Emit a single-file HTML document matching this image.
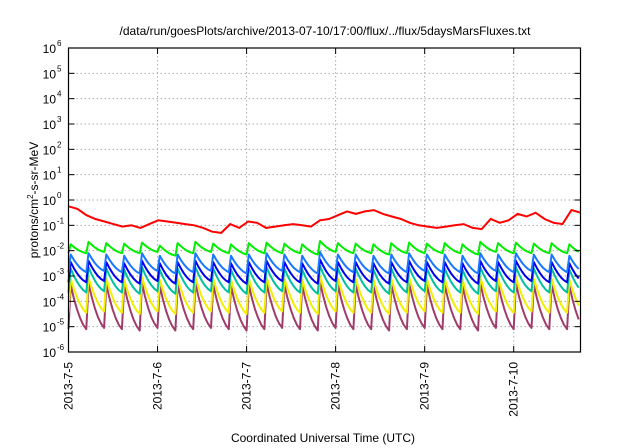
<!DOCTYPE html>
<html><head><meta charset="utf-8"><style>
body{margin:0;background:#fff;width:640px;height:448px;overflow:hidden}
svg{display:block;font-family:"Liberation Sans",sans-serif}
</style></head><body>
<svg id="chart" width="640" height="448" viewBox="0 0 640 448">
<text x="325" y="35" font-size="12" text-anchor="middle">/data/run/goesPlots/archive/2013-07-10/17:00/flux/../flux/5daysMarsFluxes.txt</text>
<text transform="translate(38,200) rotate(-90)" font-size="12" text-anchor="middle">protons/cm<tspan font-size="8" dy="-5">2</tspan><tspan dy="5">-s-sr-MeV</tspan></text>
<text x="323" y="442" font-size="12" text-anchor="middle">Coordinated Universal Time (UTC)</text>
<g id="grid"></g><g id="series"></g><g id="axes"></g>
</svg>
<script>
const dayLabels=["2013-7-5","2013-7-6","2013-7-7","2013-7-8","2013-7-9","2013-7-10"];
const yExponents=[-6,-5,-4,-3,-2,-1,0,1,2,3,4,5,6];
const redValues=[-0.25,-0.35,-0.6,-0.75,-0.85,-0.95,-1.05,-1.0,-1.1,-0.95,-0.8,-0.85,-0.9,-0.95,-1.0,-1.1,-1.25,-1.3,-0.95,-1.1,-0.85,-0.9,-1.1,-1.05,-1.0,-0.95,-1.0,-1.05,-0.8,-0.75,-0.6,-0.45,-0.55,-0.45,-0.4,-0.55,-0.65,-0.75,-0.9,-1.0,-1.05,-1.1,-1.05,-1.0,-0.95,-1.1,-1.15,-0.75,-0.9,-0.8,-0.55,-0.65,-0.5,-0.75,-0.9,-0.95,-0.4,-0.5];
const greenPeaks=[-1.75,-1.65,-1.7,-1.72,-1.68,-1.8,-1.7,-1.65,-1.72,-1.75,-1.7,-1.68,-1.72,-1.75,-1.62,-1.7,-1.72,-1.75,-1.7,-1.68,-1.72,-1.7,-1.75,-1.65,-1.7,-1.68,-1.72,-1.7,-1.75];
const greenTroughs=[-2.1,-2.05,-2.1,-2.1,-2.05,-2.2,-2.1,-2.05,-2.1,-2.15,-2.1,-2.1,-2.1,-2.15,-2.05,-2.1,-2.1,-2.15,-2.1,-2.1,-2.1,-2.1,-2.15,-2.05,-2.1,-2.1,-2.1,-2.1,-2.15];
const lightBluePeaks=[-2.15,-2.1,-2.15,-2.2,-2.1,-2.2,-2.15,-2.1,-2.15,-2.2,-2.15,-2.1,-2.15,-2.2,-2.05,-2.15,-2.15,-2.2,-2.15,-2.1,-2.15,-2.15,-2.2,-2.1,-2.15,-2.1,-2.15,-2.15,-2.2];
const lightBlueTroughs=[-2.85,-2.8,-2.85,-2.9,-2.8,-2.9,-2.85,-2.8,-2.85,-2.9,-2.85,-2.8,-2.85,-2.9,-2.8,-2.85,-2.85,-2.9,-2.85,-2.8,-2.85,-2.85,-2.9,-2.8,-2.85,-2.8,-2.85,-2.85,-2.9];
const bluePeaks=[-2.45,-2.4,-2.45,-2.5,-2.4,-2.5,-2.45,-2.4,-2.45,-2.5,-2.45,-2.4,-2.45,-2.5,-2.35,-2.45,-2.45,-2.5,-2.45,-2.4,-2.45,-2.45,-2.5,-2.4,-2.45,-2.4,-2.45,-2.45,-2.5];
const blueTroughs=[-3.25,-3.2,-3.25,-3.3,-3.2,-3.3,-3.25,-3.2,-3.25,-3.3,-3.25,-3.2,-3.25,-3.3,-3.2,-3.25,-3.25,-3.3,-3.25,-3.2,-3.25,-3.25,-3.3,-3.2,-3.25,-3.2,-3.25,-3.25,-3.3];
const tealPeaks=[-2.7,-2.65,-2.7,-2.75,-2.65,-2.75,-2.7,-2.65,-2.7,-2.75,-2.7,-2.65,-2.7,-2.75,-2.6,-2.7,-2.7,-2.75,-2.7,-2.65,-2.7,-2.7,-2.75,-2.65,-2.7,-2.65,-2.7,-2.7,-2.75];
const tealTroughs=[-3.65,-3.6,-3.65,-3.7,-3.6,-3.7,-3.65,-3.6,-3.65,-3.7,-3.65,-3.6,-3.65,-3.7,-3.6,-3.65,-3.65,-3.7,-3.65,-3.6,-3.65,-3.65,-3.7,-3.6,-3.65,-3.6,-3.65,-3.65,-3.7];
const yellowPeaks=[-3.1,-3.05,-3.1,-3.15,-3.05,-3.15,-3.1,-3.05,-3.1,-3.15,-3.1,-3.05,-3.1,-3.15,-3.0,-3.1,-3.1,-3.15,-3.1,-3.05,-3.1,-3.1,-3.15,-3.05,-3.1,-3.05,-3.1,-3.1,-3.15];
const yellowTroughs=[-4.45,-4.4,-4.45,-4.5,-4.4,-4.5,-4.45,-4.4,-4.45,-4.5,-4.45,-4.4,-4.45,-4.5,-4.4,-4.45,-4.45,-4.5,-4.45,-4.4,-4.45,-4.45,-4.5,-4.4,-4.45,-4.4,-4.45,-4.45,-4.5];
const purplePeaks=[-3.35,-3.3,-3.35,-3.4,-3.3,-3.4,-3.35,-3.3,-3.35,-3.4,-3.35,-3.3,-3.35,-3.4,-3.25,-3.35,-3.35,-3.4,-3.35,-3.3,-3.35,-3.35,-3.4,-3.3,-3.35,-3.3,-3.35,-3.35,-3.4];
const purpleTroughs=[-5.1,-5.05,-5.1,-5.15,-5.05,-5.15,-5.1,-5.05,-5.1,-5.15,-5.1,-5.05,-5.1,-5.15,-5.05,-5.1,-5.1,-5.15,-5.1,-5.05,-5.1,-5.1,-5.15,-5.05,-5.1,-5.05,-5.1,-5.1,-5.15];

const NS="http://www.w3.org/2000/svg";
const L=68.5,R=580.5,T=48,B=352,DAYS=5.75,PERIOD=0.2;
const xs=d=>L+(d/DAYS)*(R-L);
const ys=e=>T+(6-e)/12*(B-T);
function mk(tag,attrs,parent){const e=document.createElementNS(NS,tag);for(const k in attrs)e.setAttribute(k,attrs[k]);parent.appendChild(e);return e;}
const grid=document.getElementById('grid'),axes=document.getElementById('axes'),ser=document.getElementById('series');

yExponents.forEach(e=>{
  const y=ys(e);
  if(e>-6&&e<6){const g=mk('line',{x1:L,x2:R,y1:y,y2:y,stroke:'#aaa','stroke-width':1,'stroke-dasharray':'1.5,2.5'},grid);
  
  }
  const t1=mk('line',{x1:L,x2:L+6,y1:y,y2:y,stroke:'#000'},axes);
  
  
  const t2=mk('line',{x1:R-6,x2:R,y1:y,y2:y,stroke:'#000'},axes);
  
  
  const lab=mk('text',{x:56,y:y+5,'font-size':12,'text-anchor':'end'},axes);
  
  
  lab.textContent='10';
  const sup=mk('text',{x:57,y:y-2,'font-size':8},axes);
  
  
  sup.textContent=String(e).replace('-','-');
});
dayLabels.forEach((s,i)=>{
  const x=xs(i);
  if(i>0){const g=mk('line',{x1:x,x2:x,y1:T,y2:B,stroke:'#aaa','stroke-dasharray':'1.5,2.5'},grid);
  
  }
  const t=mk('line',{x1:x,x2:x,y1:B-6,y2:B,stroke:'#000'},axes);
  
  
  const t2=mk('line',{x1:x,x2:x,y1:T,y2:T+6,stroke:'#000'},axes);
  
  
  const lab=mk('text',{transform:`translate(${x+4},${B+10}) rotate(-90)`,'font-size':12,'text-anchor':'end'},axes);
  
  
  lab.textContent=s;
});
const frame=mk('rect',{x:L,y:T,width:R-L,height:B-T,fill:'none',stroke:'#000','stroke-width':1.2},axes);



function saw(peaks,troughs,color,name){
  const pts=[];
  for(let i=0;i<peaks.length;i++){
    const d0=i*PERIOD;
    const prevT=i===0?troughs[0]:troughs[i-1];
    pts.push([d0,prevT]);
    pts.push([d0+0.025,peaks[i]]);
    const steps=[0.3,0.55,0.75,0.9,1];
    steps.forEach((f,k)=>{const d=d0+0.025+(PERIOD-0.025)*(k+1)/steps.length;
      pts.push([d,peaks[i]+(troughs[i]-peaks[i])*f]);});
  }
  const p=mk('polyline',{points:pts.filter(q=>q[0]<=DAYS).map(q=>xs(q[0]).toFixed(1)+','+ys(q[1]).toFixed(1)).join(' '),fill:'none',stroke:color,'stroke-width':2,'stroke-linejoin':'round'},ser);
  
  
}
saw(purplePeaks,purpleTroughs,'#a03c6c','series-purple');
saw(yellowPeaks,yellowTroughs,'#f0f000','series-yellow');
saw(tealPeaks,tealTroughs,'#00c0a0','series-teal');
saw(bluePeaks,blueTroughs,'#0000ee','series-blue');
saw(lightBluePeaks,lightBlueTroughs,'#1a78ff','series-light-blue');
saw(greenPeaks,greenTroughs,'#00ee00','series-green');
const red=mk('polyline',{points:redValues.map((v,i)=>xs(i*DAYS/(redValues.length-1)).toFixed(1)+','+ys(v).toFixed(1)).join(' '),fill:'none',stroke:'#ff0000','stroke-width':2},ser);


</script>
</body></html>
